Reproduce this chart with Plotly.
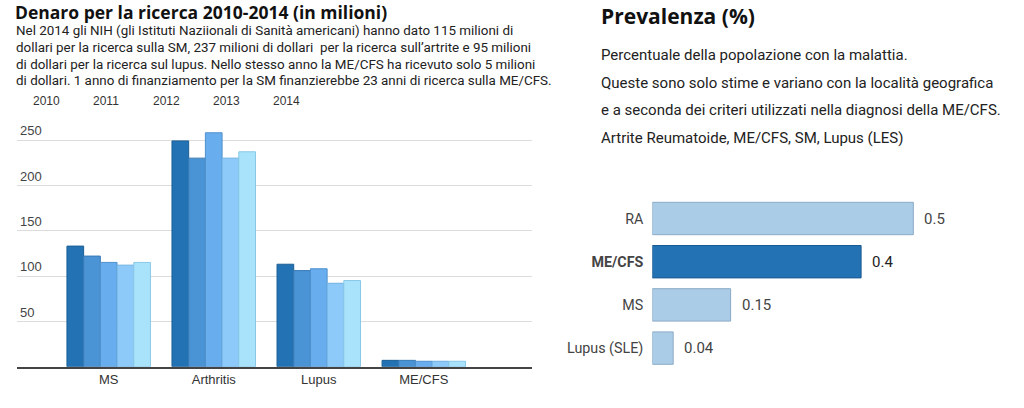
import plotly.graph_objects as go

# Funding data (millions of dollars)
years = ["2010", "2011", "2012", "2013", "2014"]
diseases = ["MS", "Arthritis", "Lupus", "ME/CFS"]
funding = {
    "2010": [133, 249, 113, 7],
    "2011": [122, 230, 106, 7],
    "2012": [115, 258, 108, 6],
    "2013": [112, 230, 92, 6],
    "2014": [115, 237, 95, 6],
}
funding_ticks = [50, 100, 150, 200, 250]

# Prevalence (%)
prev_labels = ["RA", "ME/CFS", "MS", "Lupus (SLE)"]
prev_values = [0.5, 0.4, 0.15, 0.04]

left_title = "Denaro per la ricerca 2010-2014 (in milioni)"
left_text = [
    "Nel 2014 gli NIH (gli Istituti Naziionali di Sanità americani) hanno dato 115 milioni di",
    "dollari per la ricerca sulla SM, 237 milioni di dollari  per la ricerca sull’artrite e 95 milioni",
    "di dollari per la ricerca sul lupus. Nello stesso anno la ME/CFS ha ricevuto solo 5 milioni",
    "di dollari. 1 anno di finanziamento per la SM finanzierebbe 23 anni di ricerca sulla ME/CFS.",
]
right_title = "Prevalenza (%)"
right_text = [
    "Percentuale della popolazione con la malattia.",
    "Queste sono solo stime e variano con la località geografica",
    "e a seconda dei criteri utilizzati nella diagnosi della ME/CFS.",
    "Artrite Reumatoide, ME/CFS, SM, Lupus (LES)",
]

W, H = 1024, 408
NARROW = "Roboto, Open Sans, sans-serif"
ARIAL = "Liberation Sans, Arial, sans-serif"

_YEAR_COLORS = ["#2272b4", "#4a93d4", "#68aeef", "#8dcafa", "#a9e3fb"]
_YEAR_LINES = ["#1b5f95", "#3a7bb5", "#4f90cc", "#6fb0e0", "#88c8e6"]


def px_x(p):
    return p / W


def px_y(p):
    return 1 - p / H


fig = go.Figure()

for i, yr in enumerate(years):
    fig.add_trace(go.Bar(
        x=diseases,
        y=funding[yr],
        name=yr,
        marker=dict(color=_YEAR_COLORS[i], line=dict(color=_YEAR_LINES[i], width=1)),
        xaxis="x", yaxis="y",
        showlegend=False,
    ))

prev_colors = ["#2272b4" if lab == "ME/CFS" else "#abcce6" for lab in prev_labels]
prev_lines = ["#1a5a90" if lab == "ME/CFS" else "#8aaac6" for lab in prev_labels]
fig.add_trace(go.Bar(
    x=prev_values,
    y=prev_labels,
    orientation="h",
    width=0.75,
    marker=dict(color=prev_colors, line=dict(color=prev_lines, width=1)),
    xaxis="x2", yaxis="y2",
    showlegend=False,
))

annotations = []

# value labels next to prevalence bars
for lab, val in zip(prev_labels, prev_values):
    annotations.append(dict(
        x=val, y=lab, xref="x2", yref="y2", text=f"{val:g}",
        showarrow=False, xanchor="left", xshift=9,
        font=dict(family=NARROW, size=15, color="#222" if lab == "ME/CFS" else "#444"),
    ))

# year "legend" texts
for i, yr in enumerate(years):
    annotations.append(dict(
        x=px_x(46 + i * 60), y=px_y(101), xref="paper", yref="paper",
        text=yr, showarrow=False, xanchor="center", yanchor="middle",
        font=dict(family=ARIAL, size=12, color="#333"),
    ))

annotations.append(dict(
    x=px_x(13), y=px_y(12), xref="paper", yref="paper", text=f"<b>{left_title}</b>",
    showarrow=False, xanchor="left", yanchor="middle",
    font=dict(family="Open Sans", size=17.5, color="#111"),
))
for i, line in enumerate(left_text):
    annotations.append(dict(
        x=px_x(14), y=px_y(31 + i * 16.5), xref="paper", yref="paper", text=line,
        showarrow=False, xanchor="left", yanchor="middle",
        font=dict(family=NARROW, size=13.4, color="#222"),
    ))

annotations.append(dict(
    x=px_x(599), y=px_y(16), xref="paper", yref="paper", text=f"<b>{right_title}</b>",
    showarrow=False, xanchor="left", yanchor="middle",
    font=dict(family="Open Sans", size=21, color="#111"),
))
for i, line in enumerate(right_text):
    annotations.append(dict(
        x=px_x(599), y=px_y(55 + i * 27.7), xref="paper", yref="paper", text=line,
        showarrow=False, xanchor="left", yanchor="middle",
        font=dict(family=NARROW, size=15, color="#222"),
    ))

fig.update_layout(
    width=W, height=H,
    margin=dict(l=0, r=0, t=0, b=0),
    paper_bgcolor="white", plot_bgcolor="white",
    barmode="group", bargap=0.205, bargroupgap=0,
    hovermode=False,
    xaxis=dict(
        domain=[px_x(17), px_x(532)], range=[-0.873, 4.03],
        showline=True, linecolor="#444", linewidth=1.5,
        showgrid=False, ticks="", anchor="y",
        tickfont=dict(family=ARIAL, size=13, color="#333"),
    ),
    yaxis=dict(
        domain=[px_y(366.7), px_y(112.8)], range=[0, 280],
        tickvals=funding_ticks, ticklabelposition="inside top",
        showgrid=True, gridcolor="#dcdcdc", gridwidth=1,
        zeroline=False, showline=False, ticks="", anchor="x",
        tickfont=dict(family=ARIAL, size=13, color="#444"),
    ),
    xaxis2=dict(
        domain=[px_x(652.3), px_x(991.6)], range=[0, 0.65],
        visible=False, anchor="y2",
    ),
    yaxis2=dict(
        domain=[px_y(369.7), px_y(196.9)], autorange="reversed",
        tickvals=prev_labels,
        ticktext=["<b>ME/CFS</b>" if lab == "ME/CFS" else lab for lab in prev_labels],
        showgrid=False, zeroline=False, showline=False, ticks="",
        ticklabelstandoff=8, anchor="x2",
        tickfont=dict(family=NARROW, size=14.3, color="#444"),
    ),
    annotations=annotations,
)

# drop the default 8px page margin so the figure sits at the window's corner
fig.write_html(
    "out.html",
    config={"displayModeBar": False},
    post_script="document.body.style.margin = '0';",
)
